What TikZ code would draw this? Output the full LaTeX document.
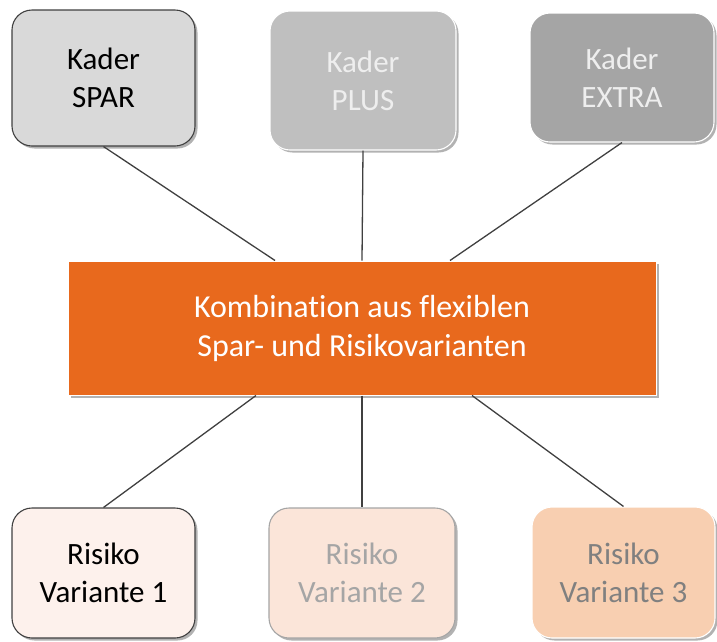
\documentclass[tikz,border=0pt]{standalone}
\usepackage{fontspec}
\setmainfont{Carlito}[Ligatures=NoCommon]
\usetikzlibrary{shadows}
\definecolor{gA}{HTML}{D9D9D9}
\definecolor{gB}{HTML}{BFBFBF}
\definecolor{gC}{HTML}{A5A5A5}
\definecolor{orangeC}{HTML}{E8691D}
\definecolor{pA}{HTML}{FDF1EC}
\definecolor{pB}{HTML}{FBE5D9}
\definecolor{pC}{HTML}{F8CFB1}
\definecolor{lineC}{HTML}{404040}
\definecolor{txtLight}{HTML}{EEEEEE}
\begin{document}
\begin{tikzpicture}[x=1pt,y=-1pt,
  box/.style={rounded corners=20pt, line width=1.1pt, align=center,
    font=\fontsize{31}{38}\selectfont, inner sep=0pt,
    drop shadow={shadow xshift=2.5pt, shadow yshift=-2.5pt, opacity=0.3, fill=black}},
  link/.style={draw=lineC, line width=1.3pt}]
\useasboundingbox (0,0) rectangle (717,641);
\node[box, draw=lineC, fill=gA, text=black, minimum width=183pt, minimum height=136pt] (k1) at (103.5,78) {Kader\\SPAR};
\node[box, draw=white, fill=gB, text=txtLight, minimum width=186pt, minimum height=139pt] (k2) at (363,80.5) {Kader\\PLUS};
\node[box, draw=white, fill=gC, text=txtLight, minimum width=184pt, minimum height=129pt] (k3) at (622,77.5) {Kader\\EXTRA};
\node[draw=white, line width=1pt, fill=orangeC, text=white, align=center, inner sep=0pt,
  font=\fontsize{32}{39}\selectfont, minimum width=588pt, minimum height=134pt,
  drop shadow={shadow xshift=2.5pt, shadow yshift=-2.5pt, opacity=0.3, fill=black}] (c) at (362,328)
  {Kombination aus flexiblen\\Spar- und Risikovarianten};
\node[box, draw=lineC, fill=pA, text=black, minimum width=183pt, minimum height=130pt] (r1) at (103.5,573) {Risiko\\Variante 1};
\node[box, draw=gC, fill=pB, text=gC, minimum width=186pt, minimum height=130pt] (r2) at (362,573) {Risiko\\Variante 2};
\node[box, draw=white, fill=pC, text=black!50, minimum width=183pt, minimum height=131pt] (r3) at (623.5,572.5) {Risiko\\Variante 3};
\coordinate (c1) at ([xshift=-87pt]c.north);
\coordinate (c3) at ([xshift=88pt]c.north);
\coordinate (c4) at ([xshift=-106pt]c.south);
\coordinate (c6) at ([xshift=110pt]c.south);
\draw[link] (k1.south) -- (c1);
\draw[link] (k2.south) -- (c.north);
\draw[link] (k3.south) -- (c3);
\draw[link] (c4) -- (r1.north);
\draw[link] (c.south) -- (r2.north);
\draw[link] (c6) -- (r3.north);
\end{tikzpicture}
\end{document}
